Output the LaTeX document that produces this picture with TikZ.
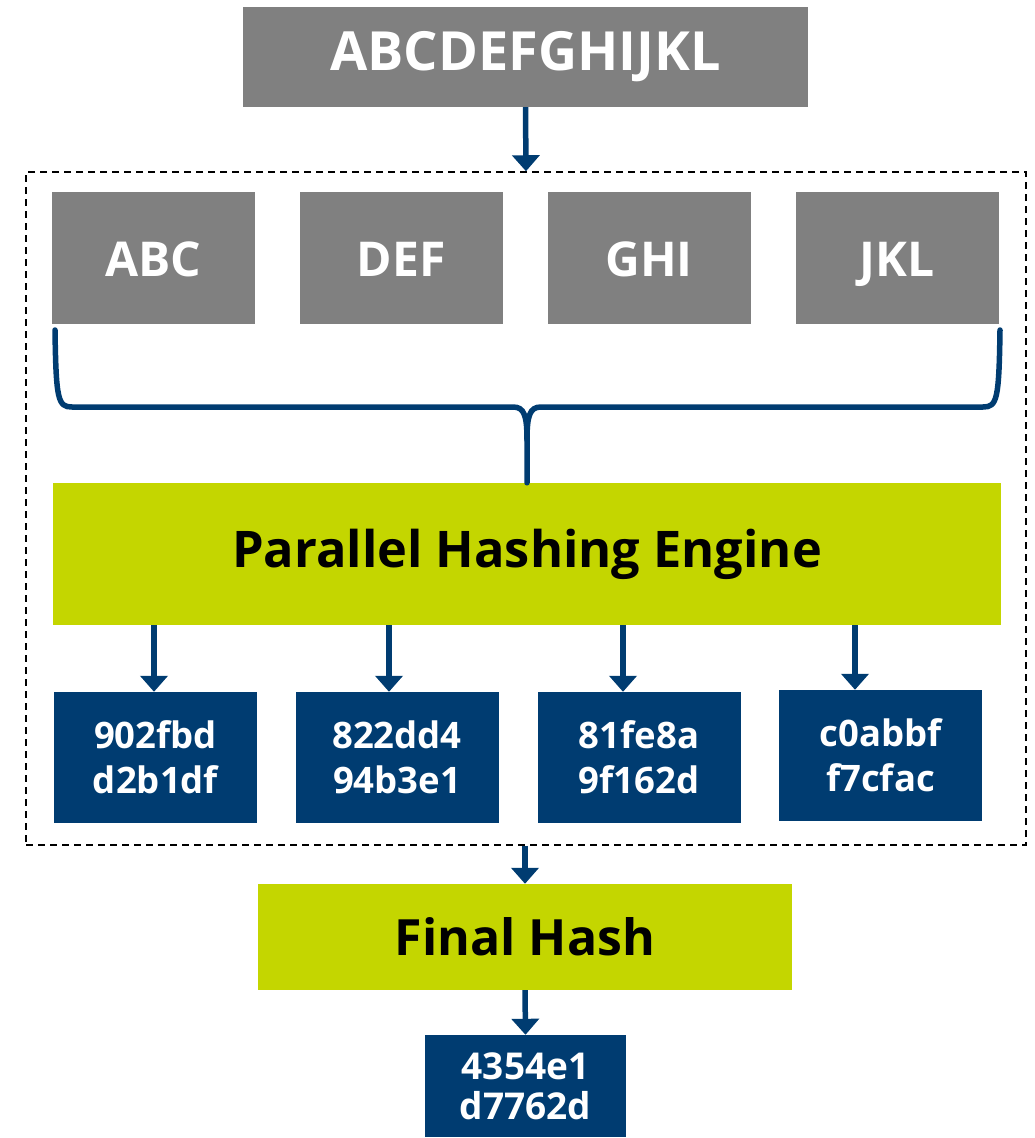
\documentclass[tikz,border=0pt]{standalone}
\usepackage{fontspec}
\setmainfont{Open Sans}
\usetikzlibrary{arrows.meta}
\definecolor{boxgray}{HTML}{808080}
\definecolor{enginelime}{HTML}{C4D600}
\definecolor{hashblue}{HTML}{003C71}
\tikzset{
  blk/.style={inner sep=0pt, align=center, font=\bfseries},
  chunk/.style={blk, fill=boxgray, text=white, minimum width=203, minimum height=132, text height=36pt, text depth=0pt, font=\bfseries\fontsize{48}{50}\selectfont},
  engine/.style={blk, fill=enginelime, text=black},
  hash/.style={blk, fill=hashblue, text=white, minimum width=203, minimum height=131, font=\bfseries\fontsize{36.5}{45}\selectfont},
  flow/.style={line width=5.5pt, draw=hashblue, -{Triangle[width=27pt,length=16pt]}},
  brace/.style={line width=5.5pt, draw=hashblue, line cap=round}
}
\begin{document}
\begin{tikzpicture}[x=1pt,y=-1pt]
    \useasboundingbox (0,0) rectangle (1035,1138);
    %% input message
    \node[blk, fill=boxgray, text=white, minimum width=565, minimum height=100, font=\bfseries\fontsize{54}{56}\selectfont] (msg) at (525.5,57) {ABCDEFGHIJKL};
    %% split group
    \node[draw, dashed, dash pattern=on 7pt off 5pt, line width=1.5pt, minimum width=1000, minimum height=673, inner sep=0pt] (grp) at (526,508.5) {};
    \draw[flow] (msg.south) -- (grp.north);
    %% chunks
    \node[chunk] (abc) at (153.5,258) {ABC};
    \node[chunk] (def) at (401,258) {DEF};
    \node[chunk] (ghi) at (649,258) {GHI};
    \node[chunk] (jkl) at (897,258) {JKL};
    %% engine
    \node[engine, minimum width=948, minimum height=142, font=\bfseries\fontsize{50.5}{52}\selectfont] (eng) at (527,554) {Parallel Hashing Engine};
    \draw[brace] (55,330) .. controls (56,400) and (58,407) .. (72,407) -- (513,407) .. controls (524,407) and (527,415) .. (527,440) -- (eng.north);
    \draw[brace] (1000,330) .. controls (999,400) and (997,407) .. (983,407) -- (541,407) .. controls (530,407) and (527,415) .. (527,440);
    %% partial hashes
    \node[hash] (h1) at (155.5,757.5) {902fbd\\d2b1df};
    \node[hash] (h2) at (397,757.5) {822dd4\\94b3e1};
    \node[hash] (h3) at (639,757.5) {81fe8a\\9f162d};
    \node[hash] (h4) at (880.5,755.5) {c0abbf\\f7cfac};
    \draw[flow] ([xshift=-1.5pt]h1.north |- eng.south) -- ([xshift=-1.5pt]h1.north);
    \draw[flow] ([xshift=-8pt]h2.north |- eng.south) -- ([xshift=-8pt]h2.north);
    \draw[flow] ([xshift=-16pt]h3.north |- eng.south) -- ([xshift=-16pt]h3.north);
    \draw[flow] ([xshift=-25.5pt]h4.north |- eng.south) -- ([xshift=-25.5pt]h4.north);
    %% final hash
    \node[engine, minimum width=534, minimum height=106, font=\bfseries\fontsize{50}{52}\selectfont] (fin) at (525,937) {Final Hash};
    \draw[flow] (grp.south -| fin.north) -- (fin.north);
    \node[hash, minimum width=201, minimum height=102, font=\bfseries\fontsize{37}{40}\selectfont] (out) at (525.5,1086) {4354e1\\d7762d};
    \draw[flow] (fin.south) -- (out.north);
\end{tikzpicture}
\end{document}
